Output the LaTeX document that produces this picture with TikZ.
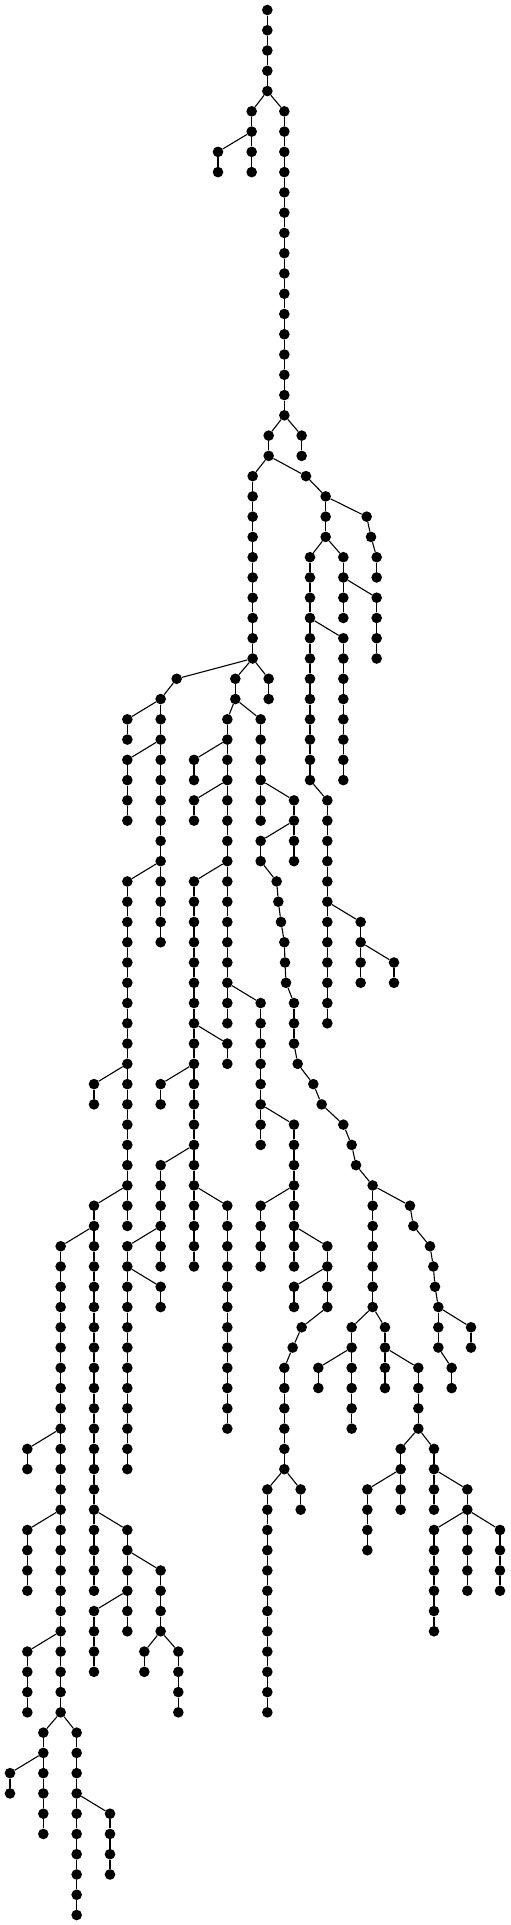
\documentclass[tikz,border=0pt]{standalone}
\tikzset{
  dot/.style={circle,fill=black,draw=none,inner sep=0pt,minimum size=10.6pt},
  edge/.style={line width=1.1pt,black}
}
\newcommand\vchain[3]{%
  \foreach \l [evaluate=\l as \p using int(\l-1)] in {#2,...,#3}{%
    \node[dot] (n\l-#1) at ({#1/3},{-(10+20.266*\l)}) {};
    \ifnum\l>#2 \draw[edge] (n\p-#1) -- (n\l-#1);\fi
  }}
\newcommand\onenode[2]{\node[dot] (n#2-#1) at ({#1/3},{-(10+20.266*#2)}) {};}
\newcommand\link[2]{\draw[edge] (n#1) -- (n#2);}
\begin{document}
\begin{tikzpicture}[x=1pt,y=1pt]
\useasboundingbox (0,0) rectangle (511,-1925);
\vchain{802}{0}{4}
\vchain{755}{5}{8}
\vchain{654}{7}{8}
\vchain{853}{5}{20}
\vchain{905}{21}{22}
\vchain{806}{21}{22}
\vchain{758}{23}{32}
\onenode{918}{23}
\vchain{977}{24}{26}
\onenode{1100}{25}
\onenode{1113}{26}
\vchain{1130}{27}{28}
\vchain{930}{27}{38}
\vchain{1030}{27}{30}
\vchain{1130}{29}{32}
\vchain{1030}{31}{38}
\vchain{982}{39}{50}
\vchain{1082}{45}{48}
\vchain{1182}{47}{48}
\vchain{806}{33}{34}
\onenode{530}{33}
\vchain{482}{34}{46}
\vchain{382}{35}{36}
\vchain{382}{37}{40}
\vchain{382}{43}{60}
\vchain{282}{53}{54}
\vchain{282}{59}{78}
\vchain{182}{61}{84}
\vchain{82}{71}{72}
\vchain{82}{75}{78}
\vchain{82}{81}{84}
\vchain{130}{85}{90}
\vchain{30}{87}{88}
\vchain{230}{85}{94}
\vchain{330}{89}{92}
\vchain{382}{75}{80}
\vchain{482}{77}{80}
\vchain{433}{81}{82}
\vchain{535}{81}{84}
\vchain{282}{79}{82}
\vchain{706}{33}{34}
\vchain{682}{35}{50}
\vchain{582}{37}{38}
\vchain{582}{39}{40}
\vchain{582}{43}{62}
\vchain{682}{51}{52}
\vchain{482}{53}{54}
\vchain{482}{57}{62}
\vchain{382}{61}{72}
\vchain{482}{63}{64}
\vchain{682}{59}{70}
\vchain{782}{49}{56}
\vchain{882}{55}{62}
\vchain{782}{59}{62}
\vchain{982}{61}{64}
\vchain{882}{63}{64}
\onenode{905}{65}
\onenode{878}{66}
\vchain{853}{67}{72}
\vchain{902}{73}{74}
\vchain{802}{73}{84}
\vchain{782}{35}{40}
\vchain{882}{39}{42}
\vchain{782}{41}{42}
\onenode{830}{43}
\onenode{835}{44}
\onenode{843}{45}
\onenode{853}{46}
\onenode{855}{47}
\onenode{858}{48}
\vchain{882}{49}{51}
\onenode{893}{52}
\onenode{940}{53}
\onenode{965}{54}
\onenode{1030}{55}
\onenode{1055}{56}
\onenode{1068}{57}
\vchain{1118}{58}{64}
\onenode{1230}{59}
\onenode{1240}{60}
\onenode{1290}{61}
\onenode{1300}{62}
\onenode{1305}{63}
\vchain{1315}{64}{66}
\vchain{1355}{67}{68}
\vchain{1413}{65}{66}
\vchain{1055}{65}{70}
\vchain{955}{67}{68}
\vchain{1155}{65}{68}
\vchain{1255}{67}{70}
\vchain{1202}{71}{74}
\vchain{1102}{73}{76}
\vchain{1302}{71}{74}
\vchain{1402}{73}{78}
\vchain{1302}{75}{80}
\vchain{1500}{75}{78}
% branch connectors
\link{4-802}{5-755}
\link{4-802}{5-853}
\link{6-755}{7-654}
\link{20-853}{21-806}
\link{20-853}{21-905}
\link{22-806}{23-758}
\link{22-806}{23-918}
\link{23-918}{24-977}
\link{24-977}{25-1100}
\link{25-1100}{26-1113}
\link{26-1113}{27-1130}
\link{26-977}{27-930}
\link{26-977}{27-1030}
\link{28-1030}{29-1130}
\link{30-930}{31-1030}
\link{38-930}{39-982}
\link{44-982}{45-1082}
\link{46-1082}{47-1182}
\link{32-758}{33-530}
\link{32-758}{33-706}
\link{32-758}{33-806}
\link{33-530}{34-482}
\link{34-482}{35-382}
\link{36-482}{37-382}
\link{42-482}{43-382}
\link{52-382}{53-282}
\link{58-382}{59-282}
\link{60-282}{61-182}
\link{70-182}{71-82}
\link{74-182}{75-82}
\link{80-182}{81-82}
\link{84-182}{85-130}
\link{84-182}{85-230}
\link{86-130}{87-30}
\link{88-230}{89-330}
\link{74-282}{75-382}
\link{76-382}{77-482}
\link{78-382}{79-282}
\link{80-482}{81-433}
\link{80-482}{81-535}
\link{34-706}{35-682}
\link{34-706}{35-782}
\link{36-682}{37-582}
\link{38-682}{39-582}
\link{42-682}{43-582}
\link{48-682}{49-782}
\link{50-582}{51-682}
\link{52-582}{53-482}
\link{56-582}{57-482}
\link{58-582}{59-682}
\link{60-482}{61-382}
\link{62-382}{63-482}
\link{54-782}{55-882}
\link{58-882}{59-782}
\link{60-882}{61-982}
\link{62-982}{63-882}
\link{64-982}{65-905}
\link{65-905}{66-878}
\link{66-878}{67-853}
\link{72-853}{73-802}
\link{72-853}{73-902}
\link{38-782}{39-882}
\link{40-882}{41-782}
\link{42-782}{43-830}
\link{43-830}{44-835}
\link{44-835}{45-843}
\link{45-843}{46-853}
\link{46-853}{47-855}
\link{47-855}{48-858}
\link{48-858}{49-882}
\link{51-882}{52-893}
\link{52-893}{53-940}
\link{53-940}{54-965}
\link{54-965}{55-1030}
\link{55-1030}{56-1055}
\link{56-1055}{57-1068}
\link{57-1068}{58-1118}
\link{58-1118}{59-1230}
\link{59-1230}{60-1240}
\link{60-1240}{61-1290}
\link{61-1290}{62-1300}
\link{62-1300}{63-1305}
\link{63-1305}{64-1315}
\link{64-1315}{65-1413}
\link{66-1315}{67-1355}
\link{64-1118}{65-1055}
\link{64-1118}{65-1155}
\link{66-1055}{67-955}
\link{66-1155}{67-1255}
\link{70-1255}{71-1202}
\link{70-1255}{71-1302}
\link{72-1202}{73-1102}
\link{72-1302}{73-1402}
\link{74-1402}{75-1302}
\link{74-1402}{75-1500}
\end{tikzpicture}
\end{document}
